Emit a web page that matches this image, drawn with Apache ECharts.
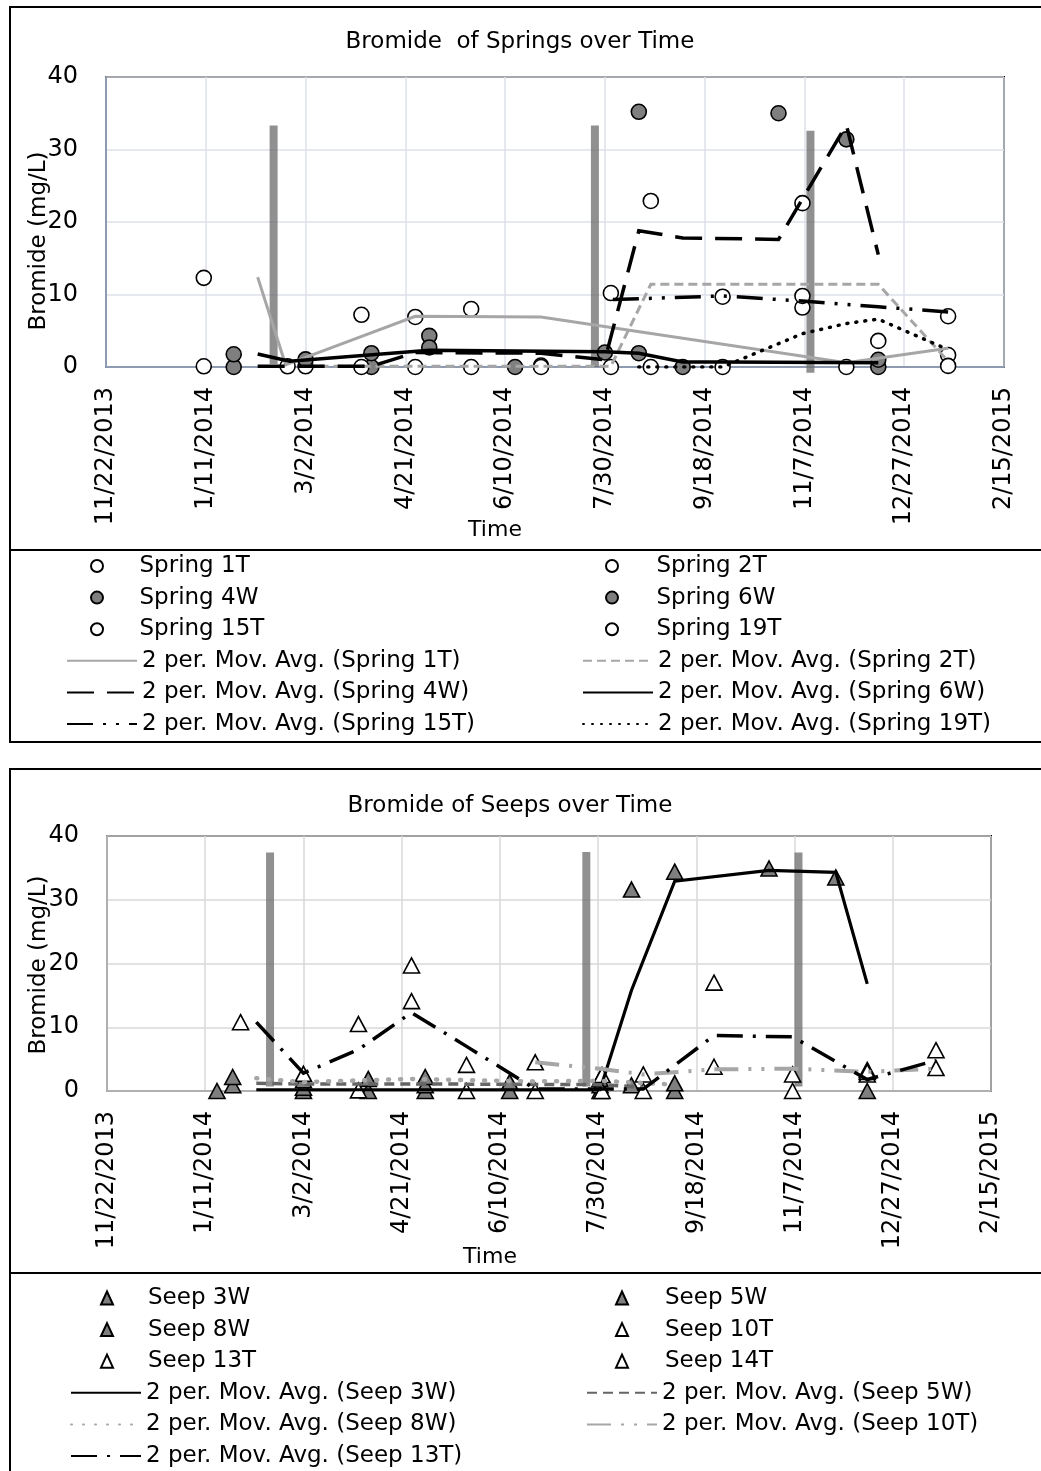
<!DOCTYPE html>
<html>
<head>
<meta charset="utf-8">
<script src="https://cdn.jsdelivr.net/npm/echarts@6/dist/echarts.min.js"></script>
<style>
html,body{margin:0;padding:0;background:#fff;}
#chart{width:1041px;height:1471px;}
</style>
</head>
<body>
<div id="chart"></div>
<script>
// ---------- DATA ----------
const xTickStart = "2013-11-22";   // first x tick; ticks every 50 days
const xTickEnd = "2015-02-15";
const xTickStepDays = 50;
const yTicks = [0, 10, 20, 30, 40];

// Springs (chart 1) - measured points [date, mg/L]
const spring1T = [["2014-01-10",12.3],["2014-02-21",0.1],["2014-03-30",7.2],["2014-04-26",6.9],["2014-05-24",8.0],["2014-11-28",0.0]];
const spring2T = [["2014-01-10",0.1],["2014-03-02",0.1],["2014-05-24",0.0],["2014-06-28",0.2],["2014-08-02",0.0],["2014-08-22",22.9],["2014-09-27",0.0],["2014-11-06",22.6],["2015-01-18",1.65]];
const spring4W = [["2014-01-25",0.0],["2014-04-04",0.0],["2014-05-03",4.3],["2014-06-15",0.0],["2014-07-30",2.0],["2014-08-16",35.2],["2014-09-07",0.0],["2014-10-25",35.0],["2014-11-28",31.4],["2014-12-14",0.0]];
const spring6W = [["2014-01-25",1.75],["2014-03-02",1.05],["2014-04-04",1.9],["2014-05-03",2.7],["2014-08-16",1.9],["2014-12-14",1.0]];
const spring15T = [["2014-03-30",0.0],["2014-04-26",0.0],["2014-06-28",0.0],["2014-08-02",10.2],["2014-09-27",9.7],["2014-11-06",8.2],["2015-01-18",7.0]];
const spring19T = [["2014-08-22",0.0],["2014-11-06",9.8],["2014-12-14",3.6],["2015-01-18",0.15]];

// Springs - 2 period moving-average trendlines as drawn (vertices)
const maSpring1T = [["2014-02-06",12.4],["2014-02-20",0.3],["2014-04-26",7.0],["2014-06-28",6.9],["2014-11-28",0.6],["2015-01-18",2.6]];
const maSpring2T = [["2014-03-02",0.1],["2014-08-02",0.1],["2014-08-22",11.4],["2014-12-14",11.4],["2015-01-18",0.8]];
const maSpring4W = [["2014-02-06",0.1],["2014-04-04",0.1],["2014-04-26",2.0],["2014-06-28",1.9],["2014-07-30",1.0],["2014-08-16",18.8],["2014-09-07",17.8],["2014-10-25",17.6],["2014-11-28",33.4],["2014-12-14",15.5]];
const maSpring6W = [["2014-02-06",1.8],["2014-02-22",0.8],["2014-05-03",2.3],["2014-07-30",2.1],["2014-08-16",1.9],["2014-09-07",0.7],["2014-09-27",0.7],["2014-12-14",0.6]];
const maSpring15T = [["2014-08-03",9.3],["2014-09-27",9.8],["2014-11-06",9.1],["2014-12-14",8.3],["2015-01-18",7.6]];
const maSpring19T = [["2014-08-16",0.0],["2014-09-27",0.0],["2014-11-06",4.6],["2014-11-28",6.0],["2014-12-14",6.6],["2015-01-18",2.4]];

// Springs - vertical gray event bars [date, bottom, top]
const springBars = [["2014-02-14",0.4,33.3],["2014-07-25",0.0,33.3],["2014-11-10",-0.8,32.6]];

// Seeps (chart 2) - measured points
const seep3W = [["2014-01-17",0],["2014-03-02",0],["2014-04-04",0],["2014-05-03",0],["2014-06-15",0],["2014-07-31",0],["2014-08-16",31.6],["2014-09-07",34.4],["2014-10-25",34.9],["2014-11-28",33.5],["2014-12-14",0]];
const seep5W = [["2014-01-25",0.9],["2014-03-02",0.5],["2014-05-03",0.9],["2014-06-15",1.4],["2014-07-31",0.9],["2014-09-07",0]];
const seep8W = [["2014-01-25",2.2],["2014-03-02",1.7],["2014-04-04",1.9],["2014-05-03",2.2],["2014-07-31",1.9],["2014-08-16",0.9],["2014-09-07",1.2],["2014-12-14",3.3]];
const seep10T = [["2014-06-28",4.5],["2014-08-01",2.5],["2014-08-22",2.6],["2014-09-27",3.8],["2014-11-06",2.6],["2014-12-14",2.6],["2015-01-18",3.6]];
const seep13T = [["2014-01-29",10.8],["2014-03-02",2.7],["2014-03-30",10.5],["2014-04-26",14.1],["2014-05-24",0],["2014-06-28",0],["2014-08-01",0],["2014-08-22",0],["2014-09-27",17.0],["2014-11-06",0],["2014-12-14",3.0],["2015-01-18",6.4]];
const seep14T = [["2014-03-30",0.1],["2014-04-26",19.7],["2014-05-24",4.1]];

// Seeps - moving-average trendlines as drawn
const maSeep3W = [["2014-02-06",0.2],["2014-07-31",0.2],["2014-08-16",15.8],["2014-09-07",32.9],["2014-10-25",34.6],["2014-11-28",34.3],["2014-12-14",16.8]];
const maSeep5W = [["2014-02-06",1.2],["2014-03-02",1.1],["2014-05-03",1.1],["2014-07-31",1.0],["2014-08-22",0.6]];
const maSeep8W = [["2014-02-06",2.0],["2014-03-02",1.4],["2014-04-26",1.9],["2014-06-28",1.5],["2014-07-31",1.6],["2014-09-07",1.0]];
const maSeep10T = [["2014-06-28",4.5],["2014-07-31",3.5],["2014-08-22",2.6],["2014-09-27",3.4],["2014-11-06",3.5],["2014-12-14",3.0],["2015-01-18",3.5]];
const maSeep13T = [["2014-02-06",10.8],["2014-03-02",2.8],["2014-03-30",6.5],["2014-04-26",12.3],["2014-05-24",7.0],["2014-06-28",0.3],["2014-08-22",0.3],["2014-09-27",8.7],["2014-11-06",8.5],["2014-12-14",1.8],["2015-01-18",4.8]];

const seepBars = [["2014-02-13",0.7,37.4],["2014-07-24",0.7,37.5],["2014-11-09",0.7,37.4]];

// ---------- HELPERS ----------
const FONT = '"DejaVu Sans", Verdana, sans-serif';
const BASE = (function(){const p=xTickStart.split('-').map(Number);return Date.UTC(p[0],p[1]-1,p[2]);})();
function toDay(s){const p=s.split('-').map(Number);return Math.round((Date.UTC(p[0],p[1]-1,p[2])-BASE)/864e5);}
function fmtDay(v){const d=new Date(BASE+v*864e5);return (d.getUTCMonth()+1)+'/'+d.getUTCDate()+'/'+d.getUTCFullYear();}
const xMax = toDay(xTickEnd);
const conv = arr => arr.map(p=>[toDay(p[0]),p[1]]);
const NONE = 'rgba(0,0,0,0)';

function scatter(name,data,g,symbol,fill,size){
  return {type:'scatter',name,xAxisIndex:g,yAxisIndex:g,data:conv(data),symbol,symbolSize:size,
    itemStyle:{color:fill,borderColor:'#000',borderWidth:1.6,opacity:1},z:3,emphasis:{disabled:true}};
}
function maLine(name,data,g,color,width,dash,cap){
  return {type:'line',name,xAxisIndex:g,yAxisIndex:g,data:conv(data),symbol:'none',showSymbol:false,
    itemStyle:{color:NONE,borderColor:NONE,borderWidth:0},
    lineStyle:{color,width,type:dash,cap:cap||'butt',join:'miter'},z:4,emphasis:{disabled:true}};
}
function bars(list,g){
  return list.map((b,i)=>({type:'line',name:'bar'+g+'_'+i,xAxisIndex:g,yAxisIndex:g,
    data:[[toDay(b[0]),b[1]],[toDay(b[0]),b[2]]],symbol:'none',clip:false,silent:true,
    lineStyle:{color:'#6b6b6b',width:8,opacity:0.75,cap:'butt'},z:2}));
}

const WHITE='#ffffff', GRAY='#7f7f7f', LGRAY='#a6a6a6';

const series = [].concat(
  bars(springBars,0),
  [
    scatter('Spring 1T',spring1T,0,'circle',WHITE,15),
    scatter('Spring 2T',spring2T,0,'circle',WHITE,15),
    scatter('Spring 4W',spring4W,0,'circle',GRAY,15),
    scatter('Spring 6W',spring6W,0,'circle',GRAY,15),
    scatter('Spring 15T',spring15T,0,'circle',WHITE,15),
    scatter('Spring 19T',spring19T,0,'circle',WHITE,15),
    maLine('2 per. Mov. Avg. (Spring 1T)',maSpring1T,0,LGRAY,3,'solid'),
    maLine('2 per. Mov. Avg. (Spring 2T)',maSpring2T,0,LGRAY,3,[9,5]),
    maLine('2 per. Mov. Avg. (Spring 4W)',maSpring4W,0,'#000',3.5,[27,13]),
    maLine('2 per. Mov. Avg. (Spring 6W)',maSpring6W,0,'#000',3.5,'solid'),
    maLine('2 per. Mov. Avg. (Spring 15T)',maSpring15T,0,'#000',3.5,[26,10,3,10,3,10]),
    maLine('2 per. Mov. Avg. (Spring 19T)',maSpring19T,0,'#000',3.5,[1,8],'round')
  ],
  bars(seepBars,1),
  [
    scatter('Seep 3W',seep3W,1,'triangle',GRAY,[16,15]),
    scatter('Seep 5W',seep5W,1,'triangle',GRAY,[16,15]),
    scatter('Seep 8W',seep8W,1,'triangle',GRAY,[16,15]),
    scatter('Seep 10T',seep10T,1,'triangle',WHITE,[16,15]),
    scatter('Seep 13T',seep13T,1,'triangle',WHITE,[16,15]),
    scatter('Seep 14T',seep14T,1,'triangle',WHITE,[16,15]),
    maLine('2 per. Mov. Avg. (Seep 3W)',maSeep3W,1,'#000',3.2,'solid'),
    maLine('2 per. Mov. Avg. (Seep 5W)',maSeep5W,1,'#666666',3.5,[10,6]),
    maLine('2 per. Mov. Avg. (Seep 8W)',maSeep8W,1,LGRAY,4.5,[1,11],'round'),
    maLine('2 per. Mov. Avg. (Seep 10T)',maSeep10T,1,LGRAY,4,[24,10,3,10,3,10]),
    maLine('2 per. Mov. Avg. (Seep 13T)',maSeep13T,1,'#000',3.5,[26,10,3,10])
  ]
);

function xAxis(g,axisColor,gridColor){
  return {type:'value',gridIndex:g,min:0,max:xMax,interval:xTickStepDays,
    axisLine:{show:true,onZero:false,lineStyle:{color:axisColor,width:2}},
    axisTick:{show:false},
    splitLine:{show:true,lineStyle:{color:gridColor,width:1.5}},
    axisLabel:{rotate:90,margin:20,fontFamily:FONT,fontSize:24,color:'#000',formatter:fmtDay}};
}
function yAxis(g,axisColor,gridColor){
  return {type:'value',gridIndex:g,min:yTicks[0],max:yTicks[yTicks.length-1],interval:yTicks[1]-yTicks[0],
    axisLine:{show:true,onZero:false,lineStyle:{color:axisColor,width:2}},
    axisTick:{show:false},
    splitLine:{show:true,lineStyle:{color:gridColor,width:1.5}},
    axisLabel:{margin:28,fontFamily:FONT,fontSize:24,color:'#000'}};
}

const ROW = 31.6;
function legendText(padLeft){return {fontFamily:FONT,fontSize:23,lineHeight:26,color:'#000',padding:[0,0,0,padLeft]};}
// marker legends (first 3 rows)
function markLegend(left,top,names,iw,ih,padLeft){
  return {left,top,orient:'vertical',itemGap:ROW-26,itemWidth:iw,itemHeight:ih,padding:0,
    selectedMode:false,data:names,textStyle:legendText(padLeft)};
}
// line legends (last rows)
function lineLegend(left,top,names){
  return {left,top,orient:'vertical',itemGap:ROW-26,itemWidth:70,itemHeight:12,padding:0,
    selectedMode:false,data:names,textStyle:legendText(0)};
}

const L1 = 553, L2 = 1285;
const option = {
  animation:false,
  backgroundColor:'#fff',
  grid:[
    {left:106,top:77,width:898,height:290,show:true,borderColor:'#000',borderWidth:2,backgroundColor:'transparent'},
    {left:107,top:836,width:884,height:255,show:true,borderColor:'#000',borderWidth:2,backgroundColor:'transparent'}
  ],
  xAxis:[xAxis(0,'#8e9ab0','#dde1e9'),xAxis(1,'#b0b0b0','#d9d9d9')],
  yAxis:[yAxis(0,'#8e9ab0','#dde1e9'),yAxis(1,'#b0b0b0','#d9d9d9')],
  legend:[
    markLegend(90,L1,['Spring 1T','Spring 4W','Spring 15T'],13,12,31),
    markLegend(605,L1,['Spring 2T','Spring 6W','Spring 19T'],13,12,33),
    lineLegend(66,L1+3*ROW,['2 per. Mov. Avg. (Spring 1T)','2 per. Mov. Avg. (Spring 4W)','2 per. Mov. Avg. (Spring 15T)']),
    lineLegend(582,L1+3*ROW,['2 per. Mov. Avg. (Spring 2T)','2 per. Mov. Avg. (Spring 6W)','2 per. Mov. Avg. (Spring 19T)']),
    markLegend(100,L2,['Seep 3W','Seep 8W','Seep 13T'],12,13,30),
    markLegend(615,L2,['Seep 5W','Seep 10T','Seep 14T'],12,13,32),
    lineLegend(70,L2+3*ROW,['2 per. Mov. Avg. (Seep 3W)','2 per. Mov. Avg. (Seep 8W)','2 per. Mov. Avg. (Seep 13T)']),
    lineLegend(586,L2+3*ROW,['2 per. Mov. Avg. (Seep 5W)','2 per. Mov. Avg. (Seep 10T)'])
  ],
  graphic:[
    {type:'rect',shape:{x:10,y:7,width:1045,height:735},style:{fill:'none',stroke:'#000',lineWidth:2},z:-1,silent:true},
    {type:'line',shape:{x1:10,y1:550,x2:1041,y2:550},style:{stroke:'#000',lineWidth:2},silent:true},
    {type:'rect',shape:{x:10,y:769,width:1045,height:720},style:{fill:'none',stroke:'#000',lineWidth:2},z:-1,silent:true},
    {type:'line',shape:{x1:10,y1:1273,x2:1041,y2:1273},style:{stroke:'#000',lineWidth:2},silent:true},
    {type:'text',x:520,y:42,style:{text:'Bromide  of Springs over Time',font:'23px '+FONT,fill:'#000',align:'center',verticalAlign:'middle'},silent:true},
    {type:'text',x:510,y:806,style:{text:'Bromide of Seeps over Time',font:'23px '+FONT,fill:'#000',align:'center',verticalAlign:'middle'},silent:true},
    {type:'text',x:495,y:530,style:{text:'Time',font:'22px '+FONT,fill:'#000',align:'center',verticalAlign:'middle'},silent:true},
    {type:'text',x:490,y:1257,style:{text:'Time',font:'22px '+FONT,fill:'#000',align:'center',verticalAlign:'middle'},silent:true},
    {type:'text',x:39,y:241,rotation:Math.PI/2,style:{text:'Bromide (mg/L)',font:'23px '+FONT,fill:'#000',align:'center',verticalAlign:'middle'},silent:true},
    {type:'text',x:39,y:965,rotation:Math.PI/2,style:{text:'Bromide (mg/L)',font:'23px '+FONT,fill:'#000',align:'center',verticalAlign:'middle'},silent:true}
  ],
  series
};

const chart = echarts.init(document.getElementById('chart'),null,{renderer:'canvas'});
chart.setOption(option);
</script>
</body>
</html>
